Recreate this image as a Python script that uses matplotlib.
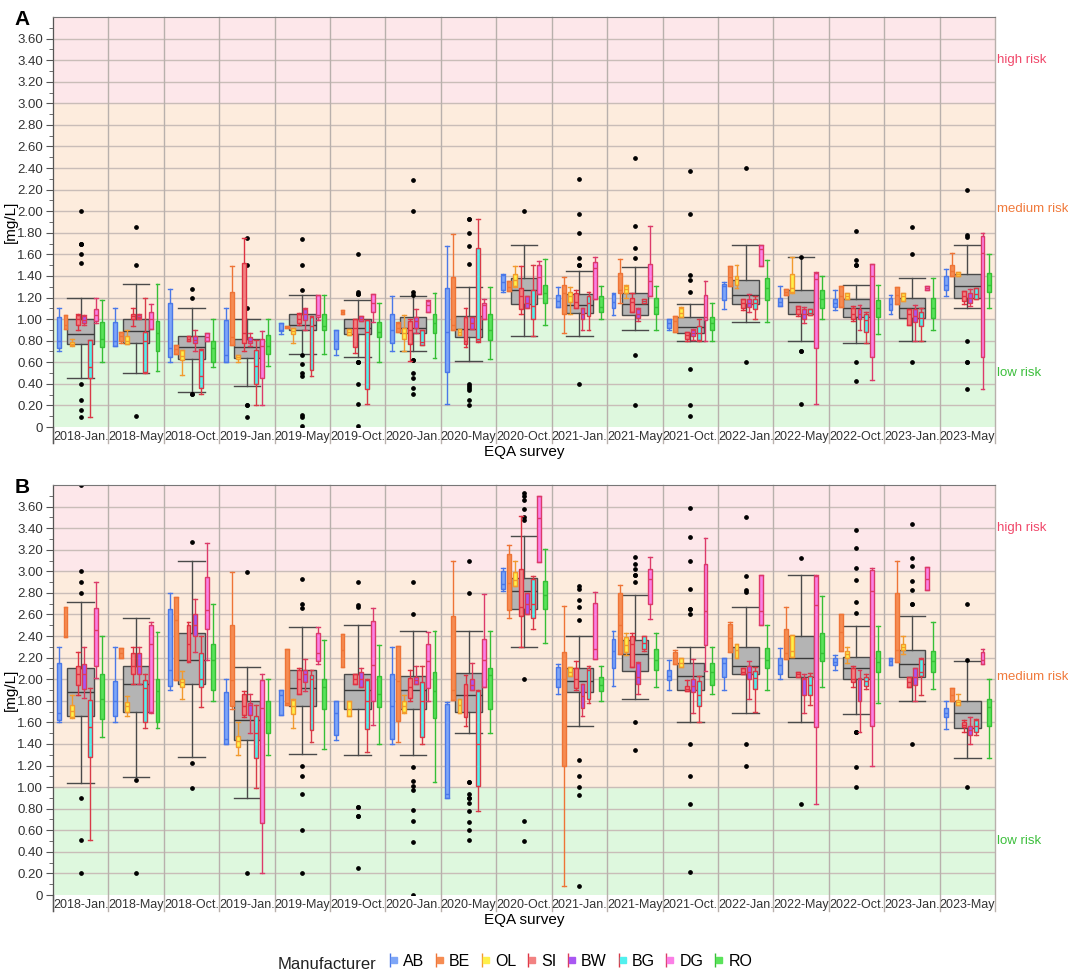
import numpy as np
import matplotlib
matplotlib.use("Agg")
from matplotlib import pyplot as plt
from matplotlib import transforms
from matplotlib.lines import Line2D
from matplotlib.legend_handler import HandlerTuple

plt.rcParams['font.family'] = ['Liberation Sans', 'DejaVu Sans']

surveys = ['2018-Jan.', '2018-May', '2018-Oct.', '2019-Jan.', '2019-May', '2019-Oct.',
           '2020-Jan.', '2020-May', '2020-Oct.', '2021-Jan.', '2021-May', '2021-Oct.',
           '2022-Jan.', '2022-May', '2022-Oct.', '2023-Jan.', '2023-May']
manufacturers = ['AB', 'BE', 'OL', 'SI', 'BW', 'BG', 'DG', 'RO']

# each row: [whisker low, q1, median, q3, whisker high] per survey
# ---- panel A ----
A_AB = [[0.70, 0.73, 0.80, 1.02, 1.10], [0.75, 0.75, 0.80, 0.97, 1.10], [0.60, 0.645, 0.73, 1.15, 1.28],
        [0.60, 0.605, 0.67, 0.99, 1.10], [0.86, 0.89, 0.90, 0.96, 0.96], [0.67, 0.72, 0.80, 0.90, 0.90],
        [0.70, 0.78, 0.90, 1.05, 1.21], [0.21, 0.51, 0.88, 1.29, 1.68], [1.25, 1.27, 1.34, 1.41, 1.42],
        [1.11, 1.11, 1.17, 1.22, 1.30], [1.04, 1.10, 1.16, 1.23, 1.24], [0.90, 0.92, 0.96, 1.00, 1.00],
        [1.09, 1.18, 1.31, 1.33, 1.34], [1.12, 1.12, 1.16, 1.20, 1.31], [1.08, 1.11, 1.15, 1.19, 1.27],
        [1.05, 1.08, 1.14, 1.20, 1.22], [1.21, 1.27, 1.32, 1.40, 1.46]]
A_BE = [[0.91, 0.91, 0.95, 1.04, 1.04], [0.78, 0.80, 0.84, 0.88, 0.88], [0.68, 0.68, 0.72, 0.76, 0.76],
        [0.76, 0.76, 0.83, 1.25, 1.49], [0.92, 0.92, 0.93, 0.94, 0.94], [1.05, 1.05, 1.07, 1.08, 1.08],
        [0.88, 0.88, 0.92, 0.96, 0.97], [0.90, 0.90, 0.95, 1.39, 1.79], [1.26, 1.26, 1.30, 1.35, 1.35],
        [0.87, 1.05, 1.24, 1.32, 1.39], [1.15, 1.24, 1.27, 1.43, 1.56], [0.88, 0.88, 0.98, 1.03, 1.03],
        [1.31, 1.31, 1.39, 1.49, 1.49], [1.22, 1.22, 1.25, 1.28, 1.28], [1.11, 1.11, 1.21, 1.31, 1.31],
        [1.14, 1.14, 1.22, 1.30, 1.30], [1.40, 1.40, 1.45, 1.50, 1.61]]
A_OL = [[0.75, 0.76, 0.77, 0.79, 0.82], [0.77, 0.77, 0.80, 0.84, 0.90], [0.48, 0.62, 0.66, 0.71, 0.71],
        [0.60, 0.63, 0.65, 0.67, 0.67], [0.78, 0.86, 0.89, 0.92, 0.92], [0.85, 0.85, 0.88, 0.91, 0.91],
        [0.70, 0.82, 0.87, 0.92, 1.04], [0.85, 0.85, 0.88, 0.91, 0.91], [1.30, 1.31, 1.36, 1.42, 1.49],
        [1.05, 1.16, 1.21, 1.25, 1.30], [1.20, 1.24, 1.28, 1.31, 1.32], [1.02, 1.02, 1.06, 1.10, 1.11],
        [1.29, 1.32, 1.37, 1.40, 1.50], [1.24, 1.25, 1.29, 1.42, 1.58], [1.19, 1.19, 1.21, 1.24, 1.24],
        [1.17, 1.17, 1.21, 1.24, 1.24], [1.40, 1.40, 1.42, 1.44, 1.44]]
A_SI = [[0.90, 0.95, 1.00, 1.04, 1.05], [0.94, 1.00, 1.03, 1.05, 1.10], [0.80, 0.80, 0.82, 0.84, 0.84],
        [0.70, 0.775, 0.87, 1.52, 1.75], [0.95, 0.96, 1.00, 1.05, 1.06], [0.69, 0.74, 0.92, 1.00, 1.00],
        [0.61, 0.77, 0.90, 0.985, 1.00], [0.74, 0.77, 0.80, 1.02, 1.10], [1.05, 1.09, 1.21, 1.29, 1.49],
        [1.10, 1.10, 1.16, 1.24, 1.27], [1.07, 1.07, 1.16, 1.20, 1.24], [0.80, 0.82, 0.85, 0.88, 0.88],
        [1.08, 1.10, 1.15, 1.19, 1.19], [1.03, 1.05, 1.09, 1.12, 1.12], [0.98, 1.00, 1.05, 1.10, 1.12],
        [0.95, 0.95, 1.05, 1.09, 1.09], [1.14, 1.17, 1.21, 1.26, 1.26]]
A_BW = [[0.95, 0.96, 0.99, 1.03, 1.04], [1.00, 1.01, 1.02, 1.04, 1.05], [0.70, 0.78, 0.81, 0.84, 0.90],
        [0.75, 0.78, 0.80, 0.83, 0.87], [0.90, 0.99, 1.05, 1.09, 1.10], [0.985, 0.985, 1.00, 1.03, 1.03],
        [0.87, 0.92, 0.985, 1.02, 1.09], [0.91, 0.91, 0.96, 1.015, 1.015], [1.10, 1.10, 1.15, 1.21, 1.21],
        [0.90, 1.00, 1.05, 1.10, 1.10], [0.98, 1.01, 1.05, 1.09, 1.10], [0.81, 0.84, 0.87, 0.90, 0.91],
        [1.07, 1.11, 1.15, 1.19, 1.23], [0.96, 1.00, 1.05, 1.09, 1.11], [0.90, 1.00, 1.05, 1.09, 1.13],
        [0.80, 0.97, 1.03, 1.09, 1.13], [1.12, 1.15, 1.20, 1.24, 1.28]]
A_BG = [[0.09, 0.45, 0.56, 0.805, 0.81], [0.50, 0.51, 0.80, 0.88, 1.20], [0.31, 0.36, 0.47, 0.71, 0.72],
        [0.20, 0.40, 0.57, 0.71, 0.81], [0.47, 0.53, 0.94, 1.02, 1.03], [0.21, 0.35, 0.88, 0.99, 0.99],
        [0.76, 0.76, 0.79, 0.90, 0.90], [0.79, 0.80, 0.82, 1.66, 1.93], [0.84, 1.00, 1.12, 1.27, 1.50],
        [0.90, 1.03, 1.15, 1.21, 1.25], [1.15, 1.15, 1.17, 1.19, 1.19], [0.80, 0.81, 0.87, 0.94, 1.00],
        [1.00, 1.09, 1.15, 1.19, 1.21], [1.04, 1.04, 1.06, 1.09, 1.09], [0.78, 0.88, 0.99, 1.05, 1.07],
        [0.80, 0.935, 1.01, 1.07, 1.10], [1.19, 1.19, 1.23, 1.29, 1.29]]
A_DG = [[0.96, 0.98, 1.04, 1.09, 1.20], [0.91, 0.91, 1.00, 1.07, 1.14], [0.80, 0.80, 0.83, 0.87, 0.87],
        [0.20, 0.45, 0.75, 0.815, 0.89], [0.99, 1.02, 1.04, 1.22, 1.22], [0.97, 1.07, 1.15, 1.23, 1.23],
        [1.07, 1.07, 1.13, 1.17, 1.18], [1.00, 1.00, 1.13, 1.145, 1.19], [1.23, 1.23, 1.39, 1.50, 1.54],
        [1.19, 1.19, 1.47, 1.53, 1.58], [1.21, 1.21, 1.35, 1.51, 1.86], [0.80, 0.99, 1.02, 1.22, 1.35],
        [1.49, 1.49, 1.65, 1.69, 1.69], [0.21, 0.73, 1.37, 1.43, 1.44], [0.44, 0.65, 1.40, 1.51, 1.51],
        [1.27, 1.27, 1.29, 1.31, 1.31], [0.35, 0.65, 1.61, 1.77, 1.80]]
A_RO = [[0.60, 0.74, 0.82, 0.97, 1.18], [0.52, 0.70, 0.87, 0.98, 1.33], [0.56, 0.60, 0.73, 0.80, 1.00],
        [0.57, 0.68, 0.75, 0.85, 1.00], [0.68, 0.90, 0.94, 1.05, 1.22], [0.60, 0.83, 0.88, 0.975, 1.15],
        [0.64, 0.87, 0.96, 1.05, 1.24], [0.63, 0.81, 0.90, 1.05, 1.30], [0.95, 1.15, 1.24, 1.32, 1.56],
        [1.00, 1.07, 1.11, 1.21, 1.31], [0.90, 1.05, 1.11, 1.20, 1.31], [0.80, 0.90, 0.96, 1.02, 1.15],
        [0.97, 1.18, 1.29, 1.38, 1.55], [1.00, 1.10, 1.19, 1.27, 1.40], [0.86, 1.02, 1.10, 1.18, 1.32],
        [0.90, 1.01, 1.10, 1.20, 1.38], [1.10, 1.25, 1.32, 1.43, 1.60]]
A_ALL = [[0.45, 0.765, 0.86, 1.00, 1.20], [0.50, 0.78, 0.89, 1.00, 1.33], [0.32, 0.63, 0.74, 0.84, 1.10],
         [0.38, 0.64, 0.74, 0.815, 1.00], [0.68, 0.90, 0.95, 1.05, 1.22], [0.65, 0.86, 0.92, 1.00, 1.18],
         [0.70, 0.87, 0.92, 1.015, 1.21], [0.61, 0.83, 0.91, 1.03, 1.30], [0.84, 1.14, 1.27, 1.38, 1.69],
         [0.84, 1.06, 1.13, 1.23, 1.45], [0.90, 1.04, 1.14, 1.24, 1.48], [0.80, 0.875, 0.93, 1.02, 1.14],
         [0.97, 1.14, 1.22, 1.36, 1.69], [0.80, 1.05, 1.16, 1.27, 1.58], [0.78, 1.02, 1.10, 1.19, 1.32],
         [0.80, 1.01, 1.10, 1.20, 1.38], [1.10, 1.20, 1.31, 1.42, 1.69]]
A_OUT = [[2.00, 1.70, 1.70, 1.70, 1.60, 1.52, 0.40, 0.25, 0.16, 0.09], [1.85, 1.50, 0.10],
         [1.28, 1.20, 0.31, 0.31], [1.75, 1.50, 1.10, 0.20, 0.20, 0.09],
         [1.74, 1.50, 1.27, 0.67, 0.58, 0.50, 0.47, 0.11, 0.09, 0.01],
         [1.60, 1.25, 1.23, 1.23, 0.60, 0.60, 0.60, 0.40, 0.21, 0.01],
         [2.29, 2.00, 1.25, 1.22, 0.62, 0.62, 0.50, 0.45, 0.36, 0.31],
         [1.93, 1.93, 1.80, 1.68, 1.51, 0.40, 0.38, 0.36, 0.34, 0.25, 0.20], [2.00],
         [2.30, 1.97, 1.80, 1.57, 1.50, 1.50, 0.40], [2.49, 1.86, 1.66, 1.57, 0.67, 0.20],
         [2.37, 1.97, 1.41, 1.36, 1.25, 0.54, 0.20, 0.10], [2.40, 0.60], [1.58, 0.70, 0.70, 0.21],
         [1.82, 1.55, 1.50, 1.50, 0.60, 0.43], [1.85, 1.60, 0.60], [2.20, 1.78, 1.76, 0.80, 0.60, 0.60, 0.35]]

# ---- panel B ----
B_AB = [[1.60, 1.62, 1.685, 2.15, 2.30], [1.60, 1.655, 1.80, 1.985, 2.30], [1.90, 1.94, 2.09, 2.65, 2.80],
        [1.40, 1.40, 1.45, 1.88, 2.00], [1.67, 1.67, 1.85, 1.90, 1.90], [1.44, 1.48, 1.69, 1.80, 1.80],
        [1.40, 1.45, 1.75, 2.05, 2.30], [0.90, 0.90, 0.94, 1.77, 1.79], [2.82, 2.84, 2.88, 3.00, 3.03],
        [1.86, 1.93, 2.00, 2.11, 2.14], [1.94, 2.10, 2.26, 2.37, 2.45], [1.90, 1.99, 2.03, 2.09, 2.18],
        [1.90, 2.02, 2.15, 2.20, 2.20], [2.00, 2.05, 2.13, 2.20, 2.29], [2.09, 2.13, 2.16, 2.20, 2.22],
        [2.13, 2.13, 2.17, 2.20, 2.20], [1.54, 1.65, 1.69, 1.73, 1.80]]
B_BE = [[2.39, 2.39, 2.40, 2.67, 2.67], [2.20, 2.20, 2.24, 2.29, 2.29], [1.99, 1.99, 2.55, 2.76, 2.76],
        [1.72, 1.75, 1.99, 2.50, 2.99], [1.76, 1.76, 1.78, 2.28, 2.28], [2.11, 2.11, 2.27, 2.42, 2.42],
        [1.42, 1.61, 1.985, 2.31, 2.31], [1.81, 1.81, 1.90, 2.59, 3.10], [2.57, 2.64, 2.89, 3.16, 3.24],
        [0.08, 1.20, 2.00, 2.25, 2.68], [2.23, 2.23, 2.50, 2.80, 2.87], [2.14, 2.14, 2.20, 2.25, 2.27],
        [2.25, 2.25, 2.38, 2.51, 2.53], [2.19, 2.19, 2.24, 2.47, 2.67], [2.26, 2.26, 2.44, 2.60, 2.60],
        [2.16, 2.16, 2.27, 2.80, 3.10], [1.80, 1.80, 1.85, 1.92, 1.92]]
B_OL = [[1.64, 1.65, 1.71, 1.76, 1.85], [1.66, 1.70, 1.75, 1.79, 1.84], [1.82, 1.93, 1.97, 2.00, 2.08],
        [1.30, 1.37, 1.43, 1.47, 1.60], [1.55, 1.68, 1.75, 1.81, 1.82], [1.66, 1.66, 1.72, 1.80, 1.80],
        [1.69, 1.695, 1.75, 1.80, 1.85], [1.69, 1.69, 1.76, 1.82, 1.82], [2.86, 2.86, 2.92, 2.99, 3.10],
        [2.03, 2.03, 2.07, 2.11, 2.11], [2.22, 2.25, 2.32, 2.39, 2.43], [2.11, 2.11, 2.15, 2.20, 2.20],
        [2.20, 2.20, 2.27, 2.33, 2.33], [2.21, 2.21, 2.26, 2.41, 2.41], [2.15, 2.20, 2.23, 2.26, 2.30],
        [2.23, 2.27, 2.30, 2.33, 2.40], [1.76, 1.76, 1.79, 1.81, 1.86]]
B_SI = [[1.85, 1.95, 2.05, 2.12, 2.25], [1.96, 2.05, 2.12, 2.24, 2.30], [2.16, 2.165, 2.33, 2.50, 2.53],
        [1.65, 1.67, 1.75, 1.86, 1.89], [1.86, 1.86, 2.00, 2.09, 2.10], [1.955, 1.955, 2.00, 2.05, 2.05],
        [1.80, 1.83, 1.93, 2.01, 2.09], [1.57, 1.65, 1.85, 1.96, 2.04], [2.30, 2.59, 2.67, 3.02, 3.51],
        [1.90, 1.92, 2.00, 2.10, 2.17], [2.11, 2.11, 2.33, 2.40, 2.43], [1.89, 1.89, 1.91, 1.94, 1.99],
        [2.05, 2.05, 2.07, 2.10, 2.10], [2.02, 2.02, 2.05, 2.07, 2.07], [1.93, 1.97, 2.00, 2.10, 2.12],
        [1.93, 1.93, 1.97, 2.02, 2.02], [1.51, 1.555, 1.58, 1.60, 1.62]]
B_BW = [[1.83, 1.91, 2.05, 2.14, 2.30], [1.96, 2.05, 2.12, 2.24, 2.30], [2.25, 2.40, 2.50, 2.60, 2.74],
        [1.50, 1.67, 1.76, 1.78, 1.86], [1.89, 1.97, 2.05, 2.09, 2.19], [1.93, 1.93, 2.00, 2.07, 2.10],
        [1.955, 1.955, 1.99, 2.025, 2.12], [1.90, 1.90, 1.95, 2.00, 2.15], [2.60, 2.60, 2.70, 2.80, 2.80],
        [1.66, 1.73, 1.84, 1.955, 1.96], [1.86, 1.955, 2.02, 2.15, 2.16], [1.69, 1.88, 1.94, 2.00, 2.19],
        [1.82, 2.00, 2.07, 2.12, 2.17], [1.69, 1.85, 2.00, 2.01, 2.05], [1.51, 1.80, 2.00, 2.01, 2.09],
        [1.80, 1.95, 2.02, 2.10, 2.10], [1.40, 1.48, 1.53, 1.57, 1.65]]
B_BG = [[0.51, 1.28, 1.56, 1.81, 1.92], [1.55, 1.60, 1.92, 1.99, 2.05], [1.74, 1.93, 2.00, 2.24, 2.40],
        [0.99, 1.27, 1.50, 1.66, 1.76], [1.42, 1.53, 2.00, 2.04, 2.09], [1.33, 1.54, 1.80, 1.99, 2.00],
        [1.40, 1.46, 1.80, 1.97, 2.12], [0.78, 1.01, 1.40, 1.89, 1.90], [2.47, 2.57, 2.70, 2.93, 2.96],
        [1.78, 1.82, 2.09, 2.10, 2.12], [2.26, 2.28, 2.34, 2.40, 2.40], [1.60, 1.75, 1.85, 1.985, 2.03],
        [1.70, 1.91, 2.01, 2.08, 2.11], [1.76, 1.85, 1.95, 2.03, 2.06], [1.91, 1.94, 1.98, 2.02, 2.05],
        [1.85, 2.03, 2.07, 2.19, 2.20], [1.48, 1.51, 1.57, 1.62, 1.63]]
B_DG = [[2.01, 2.12, 2.46, 2.66, 2.90], [1.69, 1.695, 2.33, 2.50, 2.53], [2.18, 2.47, 2.64, 2.95, 3.26],
        [0.20, 0.665, 1.73, 1.99, 2.05], [2.14, 2.17, 2.24, 2.43, 2.48], [1.58, 1.80, 2.13, 2.54, 2.66],
        [1.80, 1.92, 2.17, 2.33, 2.44], [1.93, 1.93, 2.18, 2.37, 2.79], [3.09, 3.09, 3.49, 3.70, 3.70],
        [2.19, 2.19, 2.28, 2.71, 2.81], [2.56, 2.70, 2.93, 3.02, 3.13], [2.08, 2.32, 2.63, 3.07, 3.31],
        [2.50, 2.50, 2.63, 2.97, 2.97], [0.84, 1.56, 2.69, 2.96, 2.97], [1.20, 1.57, 2.82, 3.01, 3.03],
        [2.83, 2.83, 2.93, 3.04, 3.04], [2.14, 2.14, 2.18, 2.25, 2.28]]
B_RO = [[1.46, 1.63, 1.82, 2.05, 2.40], [1.55, 1.60, 1.89, 2.00, 2.44], [1.80, 1.90, 2.18, 2.33, 2.70],
        [1.30, 1.50, 1.60, 1.80, 2.00], [1.35, 1.72, 1.93, 2.00, 2.36], [1.40, 1.74, 1.86, 2.03, 2.32],
        [1.05, 1.64, 1.89, 2.07, 2.45], [1.50, 1.72, 2.04, 2.10, 2.45], [2.34, 2.65, 2.78, 2.91, 3.21],
        [1.80, 1.89, 1.95, 2.02, 2.12], [1.93, 2.09, 2.18, 2.28, 2.43], [1.86, 1.95, 2.07, 2.15, 2.30],
        [1.90, 2.10, 2.18, 2.29, 2.50], [1.93, 2.17, 2.24, 2.43, 2.77], [1.78, 2.07, 2.16, 2.26, 2.49],
        [1.91, 2.07, 2.17, 2.26, 2.53], [1.27, 1.57, 1.74, 1.82, 2.00]]
B_ALL = [[1.04, 1.655, 1.88, 2.10, 2.72], [1.09, 1.695, 1.96, 2.12, 2.57], [1.28, 1.955, 2.18, 2.43, 3.10],
         [0.90, 1.44, 1.62, 1.80, 2.11], [1.31, 1.75, 1.92, 2.09, 2.48], [1.30, 1.72, 1.90, 2.05, 2.50],
         [1.30, 1.72, 1.90, 2.03, 2.45], [1.50, 1.695, 1.85, 2.06, 2.45], [2.30, 2.65, 2.82, 2.94, 3.33],
         [1.57, 1.88, 1.98, 2.10, 2.40], [1.82, 2.08, 2.23, 2.36, 2.78], [1.60, 1.90, 2.03, 2.15, 2.30],
         [1.69, 2.05, 2.12, 2.30, 2.67], [1.60, 2.02, 2.20, 2.40, 2.97], [1.68, 2.00, 2.10, 2.21, 2.49],
         [1.80, 2.02, 2.14, 2.27, 2.59], [1.27, 1.55, 1.69, 1.80, 2.17]]
B_OUT = [[3.80, 3.00, 2.90, 2.80, 0.90, 0.51, 0.20], [1.07, 0.20], [3.27, 1.22, 0.99], [2.99, 0.20],
         [2.93, 2.70, 2.66, 1.20, 1.10, 0.94, 0.60, 0.20],
         [2.90, 2.69, 2.67, 0.82, 0.82, 0.73, 0.73, 0.25],
         [2.90, 2.60, 1.19, 1.06, 1.01, 0.97, 0.79, 0.69, 0.49, 0.00],
         [3.10, 2.80, 1.05, 1.05, 0.94, 0.90, 0.90, 0.85, 0.78, 0.68, 0.60, 0.51],
         [3.73, 3.70, 3.66, 3.58, 3.50, 3.48, 2.00, 0.69, 0.50],
         [2.86, 2.84, 2.73, 2.67, 2.55, 1.25, 1.10, 1.00, 0.93, 0.08],
         [3.13, 3.07, 3.02, 2.97, 2.97, 2.90, 1.60, 1.34],
         [3.59, 3.32, 3.10, 2.84, 2.65, 2.65, 2.60, 1.40, 1.10, 0.84, 0.21],
         [3.50, 2.96, 2.83, 2.81, 1.40, 1.20], [3.12, 0.84],
         [3.38, 3.22, 3.03, 2.92, 2.72, 2.61, 1.51, 1.51, 1.51, 1.19, 1.00],
         [3.44, 3.12, 3.05, 2.91, 2.83, 2.70, 2.70, 1.40], [2.70, 2.18, 1.00]]

# fill / edge colours per manufacturer
fills = ['#7ea6f7', '#f68c52', '#fff04a', '#f28282', '#a957f2', '#52f0ee', '#fb7fe6', '#5ae35a']
edges = ['#4a78e8', '#ee7436', '#f29a2e', '#de3242', '#dc3a58', '#d83a48', '#dc3a6a', '#36bf36']


def to_stats(rows, outs=None):
    st = []
    for i, r in enumerate(rows):
        st.append(dict(whislo=r[0], q1=r[1], med=r[2], q3=r[3], whishi=r[4],
                       fliers=outs[i] if outs is not None else []))
    return st


def draw_panel(ax, series, overall, outliers, letter):
    n = len(surveys)
    x = np.arange(n)
    ax.set_xlim(-0.5, n - 0.5)
    ax.set_ylim(0, 3.8)
    # risk bands
    ax.axhspan(0, 1.0, color='#def8de', zorder=0)
    ax.axhspan(1.0, 3.0, color='#fdecdd', zorder=0)
    ax.axhspan(3.0, 3.8, color='#fde7ea', zorder=0)
    for yv in np.arange(0.2, 3.8, 0.2):
        ax.axhline(yv, color='#c9bdb8', lw=1.0, zorder=1)
    trans = transforms.blended_transform_factory(ax.transData, ax.transAxes)
    for b in np.arange(-0.5, n, 1.0):
        ax.plot([b, b], [-0.038, 1], color='#b8b0ac', lw=1.0, transform=trans,
                clip_on=False, zorder=1)

    # overall box (grey, wide)
    ax.bxp(to_stats(overall, outliers), positions=x, widths=0.48, capwidths=0.48,
           patch_artist=True, manage_ticks=False, zorder=2,
           boxprops=dict(facecolor='#b4b4b4', edgecolor='#4a4a4a', lw=1.0),
           whiskerprops=dict(color='#4a4a4a', lw=1.0),
           capprops=dict(color='#4a4a4a', lw=1.0),
           medianprops=dict(color='#3a3a3a', lw=1.0),
           flierprops=dict(marker='o', markersize=2.4, markerfacecolor='black',
                           markeredgecolor='black', linestyle='none'))

    offsets = -0.385 + 0.11 * np.arange(len(manufacturers))
    for k, rows in enumerate(series):
        ax.bxp(to_stats(rows), positions=x + offsets[k], widths=0.07, capwidths=0.07,
               patch_artist=True, manage_ticks=False, showfliers=False, zorder=3,
               boxprops=dict(facecolor=fills[k], edgecolor=edges[k], lw=1.0),
               whiskerprops=dict(color=edges[k], lw=1.0),
               capprops=dict(color=edges[k], lw=1.0),
               medianprops=dict(color=edges[k], lw=1.0))

    ax.set_xticks(x)
    ax.set_xticklabels(surveys, fontsize=9, color='#333333')
    ax.tick_params(axis='x', length=0, pad=3)
    ax.set_yticks(np.arange(0, 3.61, 0.2))
    ax.set_yticklabels(['0'] + ['%.2f' % v for v in np.arange(0.2, 3.61, 0.2)],
                       fontsize=9.5, color='#333333')
    ax.set_yticks(np.arange(0.1, 3.8, 0.2), minor=True)
    ax.tick_params(axis='y', which='major', length=5, color='#555555', pad=2)
    ax.tick_params(axis='y', which='minor', length=3, color='#555555')
    for s in ['right', 'bottom']:
        ax.spines[s].set_visible(False)
    ax.spines['top'].set_color('#777777')
    ax.spines['left'].set_color('#555555')
    ax.plot([-0.5, -0.5], [-0.038, 0], color='#555555', lw=1.0, transform=trans, clip_on=False)
    ax.set_ylabel('[mg/L]', fontsize=11)
    ax.yaxis.set_label_coords(-0.037, 0.5)
    ax.set_xlabel('EQA survey', fontsize=11, labelpad=1)

    rtrans = transforms.blended_transform_factory(ax.transAxes, ax.transData)
    ax.text(1.002, 3.40, 'high risk', color='#f0486a', fontsize=9.5, va='center', transform=rtrans)
    ax.text(1.002, 2.02, 'medium risk', color='#f07a3c', fontsize=9.5, va='center', transform=rtrans)
    ax.text(1.002, 0.50, 'low risk', color='#3cbf3c', fontsize=9.5, va='center', transform=rtrans)
    ax.text(-0.033, 0.995, letter, fontsize=15, fontweight='bold', transform=ax.transAxes,
            ha='center', va='center')


fig = plt.figure(figsize=(10.68, 9.72), dpi=100)
axA = fig.add_axes([53 / 1068, 1 - 427 / 972, 942 / 1068, 410 / 972])
axB = fig.add_axes([53 / 1068, 1 - 895 / 972, 942 / 1068, 410 / 972])

draw_panel(axA, [A_AB, A_BE, A_OL, A_SI, A_BW, A_BG, A_DG, A_RO], A_ALL, A_OUT, 'A')
draw_panel(axB, [B_AB, B_BE, B_OL, B_SI, B_BW, B_BG, B_DG, B_RO], B_ALL, B_OUT, 'B')

handles = []
for k in range(len(manufacturers)):
    h1 = Line2D([], [], color=edges[k], marker='|', markersize=10, linestyle='none', markeredgewidth=1.0)
    h2 = Line2D([], [], marker='s', markersize=5, markerfacecolor=fills[k],
                markeredgecolor=fills[k], linestyle='none')
    handles.append((h1, h2))
fig.text(278 / 1068, 1 - 964 / 972, 'Manufacturer', fontsize=12, va='center', color='#222222')
fig.legend(handles, manufacturers, handler_map={tuple: HandlerTuple(ndivide=None)},
           ncol=8, loc='center left', bbox_to_anchor=(388 / 1068, 1 - 961 / 972),
           frameon=False, fontsize=11.5, handlelength=0.5, handletextpad=0.45,
           columnspacing=0.6, borderpad=0, borderaxespad=0)

fig.savefig('out.png', dpi=100)
